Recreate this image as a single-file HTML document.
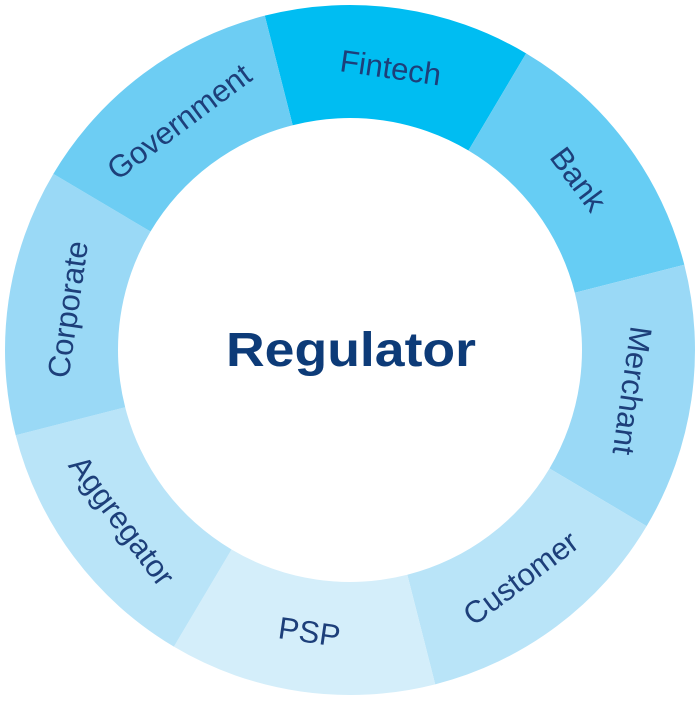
<!DOCTYPE html>
<html><head><style>html,body{margin:0;padding:0;background:#fff}</style></head>
<body>
<svg width="700" height="700" viewBox="0 0 700 700" xmlns="http://www.w3.org/2000/svg">
<defs>
<path id="seg" d="M -132.03 -318.74 A 345 345 0 0 1 132.03 -318.74 L 88.78 -214.34 A 232 232 0 0 0 -88.78 -214.34 Z"/>
</defs>
<g transform="translate(350,350)">
<use href="#seg" transform="rotate(8.2)" fill="#00bdf2"/>
<use href="#seg" transform="rotate(53.2)" fill="#66cdf4"/>
<use href="#seg" transform="rotate(98.2)" fill="#9ad9f6"/>
<use href="#seg" transform="rotate(143.2)" fill="#b9e4f8"/>
<use href="#seg" transform="rotate(188.2)" fill="#d4eefa"/>
<use href="#seg" transform="rotate(233.2)" fill="#b9e4f8"/>
<use href="#seg" transform="rotate(278.2)" fill="#9ad9f6"/>
<use href="#seg" transform="rotate(323.2)" fill="#6dcdf3"/>
</g>
<g font-family="Liberation Sans, sans-serif" font-size="31" fill="#1d3f7a" text-anchor="middle" dominant-baseline="central">
<text transform="translate(350,350) rotate(8.2) translate(0,-285)">Fintech</text>
<text transform="translate(350,350) rotate(53.2) translate(0,-285)">Bank</text>
<text transform="translate(350,350) rotate(98.2) translate(0,-285)">Merchant</text>
<text transform="translate(350,350) rotate(143.2) translate(0,-285) rotate(180)">Customer</text>
<text transform="translate(350,350) rotate(188.2) translate(0,-285) rotate(180)">PSP</text>
<text transform="translate(350,350) rotate(233.2) translate(0,-285) rotate(180)">Aggregator</text>
<text transform="translate(350,350) rotate(278.2) translate(0,-285)">Corporate</text>
<text transform="translate(350,350) rotate(323.2) translate(0,-285)">Government</text>
</g>
<text x="351" y="366" font-family="Liberation Sans, sans-serif" font-weight="bold" font-size="48" fill="#0d3b78" text-anchor="middle" textLength="250" lengthAdjust="spacingAndGlyphs">Regulator</text>
</svg>
</body></html>
